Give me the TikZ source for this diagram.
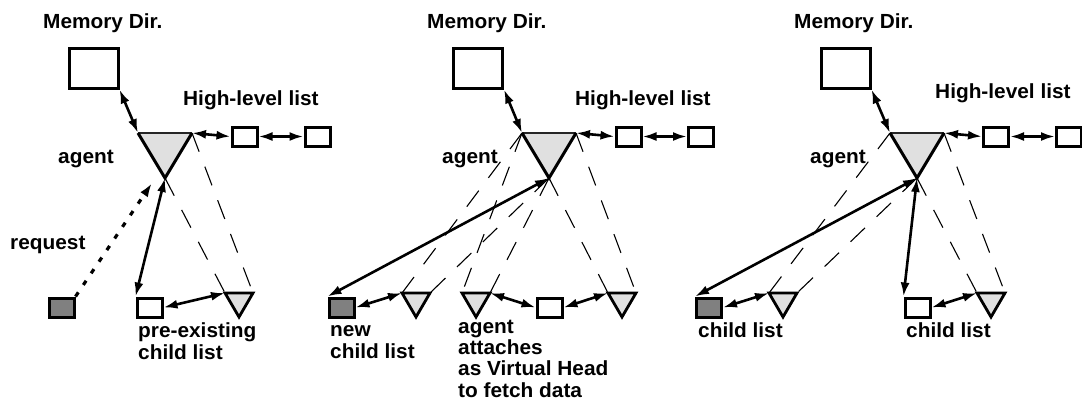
\documentclass[tikz,border=0pt]{standalone}
\usepackage{fontspec}
\newfontfamily\labfont{Liberation Sans}[FakeStretch=1.02]
\usetikzlibrary{arrows.meta}
\definecolor{trifill}{gray}{0.88}
\definecolor{boxgray}{gray}{0.5}
\begin{document}
\begin{tikzpicture}[x=1bp,y=-1bp,
  membox/.style={draw, line width=3bp, minimum width=49bp, minimum height=40bp, inner sep=0pt},
  smallbox/.style={draw, line width=3bp, minimum width=25bp, minimum height=19bp, inner sep=0pt},
  graybox/.style={smallbox, fill=boxgray},
  lab/.style={font=\labfont\bfseries\fontsize{20.5}{21.3}\selectfont, anchor=base west, align=left, inner sep=0pt},
  link/.style={line width=2.6bp, {Latex[length=14bp,width=9bp]}-{Latex[length=14bp,width=9bp]}},
  reqlink/.style={line width=3.2bp, dash pattern=on 5bp off 9bp, -{Latex[length=14bp,width=9bp]}},
  cone/.style={line width=1.1bp, dash pattern=on 20bp off 16bp},
  tri/.style={fill=trifill},
  triside/.style={line width=3bp, line join=miter},
  tritop/.style={line width=1.5bp, draw=black!85},
  ctri/.style={fill=trifill, draw, line width=2.8bp, line join=miter}
]
\useasboundingbox (0,0) rectangle (1082,400);

% ---------- panel 1 ----------
\node[lab] (md1) at (43,28) {Memory Dir.};
\node[lab] (hl1) at (183,105) {High-level list};
\node[lab] (ag1) at (58,163) {agent};
\node[lab] (rq1) at (10,249) {request};
\node[lab] (pe1) at (138,359) {pre-existing\\child list};

\node[membox] (m1) at (93.5,68) {};
\coordinate (p1l) at (138,133);
\coordinate (p1r) at (192,133);
\coordinate (p1a) at (165,178);
\fill[tri] (p1l) -- (p1a) -- (p1r) -- cycle;
\draw[tritop] (p1l) -- (p1r);
\draw[triside] (p1l) -- (p1a) -- (p1r);
\node[smallbox] (h1a) at (244.5,136.5) {};
\node[smallbox] (h1b) at (317.5,136.5) {};

\node[graybox] (g1) at (61.5,307.5) {};
\node[smallbox] (w1) at (149.5,307.5) {};
\coordinate (t1l) at (225,293);
\coordinate (t1r) at (253,293);
\coordinate (t1a) at (239,317);
\draw[ctri] (t1l) -- (t1a) -- (t1r) -- cycle;

\draw[cone] (p1a) -- (t1l);
\draw[cone] (p1r) -- (t1r);
\draw[link] (m1.south east) -- (p1l);
\draw[link] (p1r) -- (h1a.west);
\draw[link] (h1a.east) -- (h1b.west);
\draw[link] (w1.north west) -- (p1a);
\draw[link] (w1.east) -- (t1l);
\coordinate (rqend) at (152,183);
\draw[reqlink] (g1.north east) -- (rqend);

% ---------- panel 2 ----------
\node[lab] (md2) at (427,28) {Memory Dir.};
\node[lab] (hl2) at (575,105) {High-level list};
\node[lab] (ag2) at (442,163) {agent};
\node[lab] (nw2) at (330,358) {new\\child list};
\node[lab] (va2) at (458,397) {agent\\attaches\\as Virtual Head\\to fetch data};

\node[membox] (m2) at (478,68) {};
\coordinate (p2l) at (522,133);
\coordinate (p2r) at (576,133);
\coordinate (p2a) at (549,178);
\fill[tri] (p2l) -- (p2a) -- (p2r) -- cycle;
\draw[tritop] (p2l) -- (p2r);
\draw[triside] (p2l) -- (p2a) -- (p2r);
\node[smallbox] (h2a) at (628.5,136.5) {};
\node[smallbox] (h2b) at (701,136.5) {};

\node[graybox] (g2) at (341.5,307.5) {};
\coordinate (u1l) at (402,293);
\coordinate (u1r) at (430,293);
\coordinate (u1a) at (416,317);
\draw[ctri] (u1l) -- (u1a) -- (u1r) -- cycle;
\coordinate (u2l) at (462,293);
\coordinate (u2r) at (490,293);
\coordinate (u2a) at (476,317);
\draw[ctri] (u2l) -- (u2a) -- (u2r) -- cycle;
\node[smallbox] (w2) at (549.5,307.5) {};
\coordinate (u3l) at (608,293);
\coordinate (u3r) at (636,293);
\coordinate (u3a) at (622,317);
\draw[ctri] (u3l) -- (u3a) -- (u3r) -- cycle;

\draw[cone] (p2l) -- (u1l);
\draw[cone] (p2a) -- (u1r);
\draw[cone] (p2l) -- (u2l);
\draw[cone] (p2a) -- (u2r);
\draw[cone] (p2a) -- (u3l);
\draw[cone] (p2r) -- (u3r);
\draw[link] (m2.south east) -- (p2l);
\draw[link] (p2r) -- (h2a.west);
\draw[link] (h2a.east) -- (h2b.west);
\draw[link] (g2.north west) -- (p2a);
\draw[link] (g2.east) -- (u1l);
\draw[link] (w2.west) -- (u2r);
\draw[link] (w2.east) -- (u3l);

% ---------- panel 3 ----------
\node[lab] (md3) at (794,28) {Memory Dir.};
\node[lab] (hl3) at (935,98) {High-level list};
\node[lab] (ag3) at (810,163) {agent};
\node[lab] (cl3a) at (698,337) {child list};
\node[lab] (cl3b) at (906,337) {child list};

\node[membox] (m3) at (845.5,68) {};
\coordinate (p3l) at (890,133);
\coordinate (p3r) at (944,133);
\coordinate (p3a) at (917,178);
\fill[tri] (p3l) -- (p3a) -- (p3r) -- cycle;
\draw[tritop] (p3l) -- (p3r);
\draw[triside] (p3l) -- (p3a) -- (p3r);
\node[smallbox] (h3a) at (996,136.5) {};
\node[smallbox] (h3b) at (1069,136.5) {};

\node[graybox] (g3) at (709,307.5) {};
\coordinate (v1l) at (769,293);
\coordinate (v1r) at (797,293);
\coordinate (v1a) at (783,317);
\draw[ctri] (v1l) -- (v1a) -- (v1r) -- cycle;
\node[smallbox] (w3) at (917.5,307.5) {};
\coordinate (v2l) at (977,293);
\coordinate (v2r) at (1005,293);
\coordinate (v2a) at (991,317);
\draw[ctri] (v2l) -- (v2a) -- (v2r) -- cycle;

\draw[cone] (p3l) -- (v1l);
\draw[cone] (p3a) -- (v1r);
\draw[cone] (p3a) -- (v2l);
\draw[cone] (p3r) -- (v2r);
\draw[link] (m3.south east) -- (p3l);
\draw[link] (p3r) -- (h3a.west);
\draw[link] (h3a.east) -- (h3b.west);
\draw[link] (g3.north west) -- (p3a);
\draw[link] (w3.north west) -- (p3a);
\draw[link] (g3.east) -- (v1l);
\draw[link] (w3.east) -- (v2l);
\end{tikzpicture}
\end{document}
